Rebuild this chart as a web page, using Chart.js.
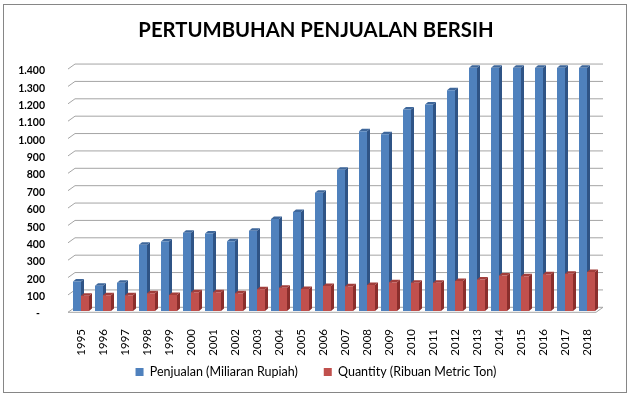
<!DOCTYPE html>
<html>
<head>
<meta charset="utf-8">
<script src="https://cdn.jsdelivr.net/npm/chart.js@4"></script>
<style>
  html, body { margin: 0; padding: 0; background: #ffffff; }
  #wrap { width: 632px; height: 397px; position: relative; }
</style>
</head>
<body>
<div id="wrap"><canvas id="c" width="632" height="397"></canvas></div>
<script>
const titleText = "PERTUMBUHAN PENJUALAN BERSIH";
const years = ["1995","1996","1997","1998","1999","2000","2001","2002","2003","2004","2005","2006",
               "2007","2008","2009","2010","2011","2012","2013","2014","2015","2016","2017","2018"];
const penjualan = [170, 145, 163, 381, 400, 450, 446, 402, 462, 530, 570, 680,
                   813, 1035, 1017, 1160, 1188, 1271, 1400, 1400, 1400, 1400, 1400, 1400];
const quantity = [88, 90, 90, 102, 92, 108, 108, 102, 125, 134, 127, 144,
                  142, 150, 165, 162, 162, 173, 181, 204, 200, 212, 214, 225];
const seriesNames = ["Penjualan (Miliaran Rupiah)", "Quantity (Ribuan Metric Ton)"];
const yTicks = [0,100,200,300,400,500,600,700,800,900,1000,1100,1200,1300,1400];

const FONT = "Lato, 'Liberation Sans', sans-serif";

function fmt(v) {
  if (v === 0) return "-  ";
  return String(v).replace(/\B(?=(\d{3})+(?!\d))/g, ".");
}

const frontColors = ["#4F81BD", "#C0504D"];
const sideColors  = ["#2F5486", "#8A2E2C"];
const topColors   = ["#3E679B", "#A23E3B"];

const border = {
  id: "border",
  beforeDraw(chart) {
    const ctx = chart.ctx;
    ctx.save();
    ctx.fillStyle = "#ffffff";
    ctx.fillRect(0, 0, chart.width, chart.height);
    ctx.strokeStyle = "#868686";
    ctx.lineWidth = 1;
    ctx.strokeRect(3.5, 4.5, 623, 388);
    ctx.restore();
  }
};

const threeD = {
  id: "threeD",
  beforeDatasetsDraw(chart) {
    const ctx = chart.ctx;
    const y = chart.scales.y;
    const area = chart.chartArea;
    const gx0 = area.left - 2, gdx = 7, backUp = 3.7, frontDown = 1.3;
    const gRight = area.right + 5;
    ctx.save();
    ctx.strokeStyle = "#A5A5A5";
    ctx.lineWidth = 1;
    yTicks.forEach(v => {
      const py = y.getPixelForValue(v);
      ctx.beginPath();
      ctx.moveTo(gx0, py + frontDown);
      ctx.lineTo(gx0 + gdx, py - backUp);
      ctx.lineTo(gRight, py - backUp);
      ctx.stroke();
    });
    const p0 = y.getPixelForValue(0);
    ctx.beginPath();
    ctx.moveTo(gx0, p0 + frontDown);
    ctx.lineTo(gRight - gdx, p0 + frontDown);
    ctx.lineTo(gRight, p0 - backUp);
    ctx.stroke();
    const dx = 3, dy = 2.5;
    chart.data.datasets.forEach((ds, di) => {
      const meta = chart.getDatasetMeta(di);
      meta.data.forEach(bar => {
        const p = bar.getProps(["x", "y", "base", "width"], true);
        const l = p.x - p.width / 2, r = p.x + p.width / 2;
        const t = p.y, b = p.base;
        ctx.fillStyle = sideColors[di];
        ctx.beginPath();
        ctx.moveTo(r, t);
        ctx.lineTo(r + dx, t - dy);
        ctx.lineTo(r + dx, b - dy);
        ctx.lineTo(r, b);
        ctx.closePath();
        ctx.fill();
        ctx.fillStyle = topColors[di];
        ctx.beginPath();
        ctx.moveTo(l, t);
        ctx.lineTo(l + dx, t - dy);
        ctx.lineTo(r + dx, t - dy);
        ctx.lineTo(r, t);
        ctx.closePath();
        ctx.fill();
      });
    });
    ctx.restore();
  }
};

new Chart(document.getElementById("c"), {
  type: "bar",
  data: {
    labels: years,
    datasets: [
      { label: seriesNames[0], data: penjualan, backgroundColor: frontColors[0], borderWidth: 0 },
      { label: seriesNames[1], data: quantity, backgroundColor: frontColors[1], borderWidth: 0 }
    ]
  },
  options: {
    responsive: false,
    animation: false,
    devicePixelRatio: 1,
    layout: { padding: { left: 0, right: 0, top: 0, bottom: 8.75 } },
    datasets: { bar: { barPercentage: 1, categoryPercentage: 0.727 } },
    plugins: {
      title: {
        display: true,
        text: titleText,
        color: "#000000",
        font: { family: FONT, size: 20.3, weight: "bold" },
        padding: { top: 18.7, bottom: 24.7 }
      },
      legend: {
        display: true,
        position: "bottom",
        labels: {
          color: "#000000",
          font: { family: FONT, size: 12.5 },
          boxWidth: 8,
          boxHeight: 8,
          padding: 26
        }
      },
      tooltip: { enabled: false }
    },
    scales: {
      x: {
        grid: { display: false },
        border: { display: false },
        ticks: {
          color: "#000000",
          font: { family: FONT, size: 11.5 },
          minRotation: 90,
          maxRotation: 90,
          padding: 10,
          autoSkip: false
        },
        afterFit(s) {
          s.height = 28.75;
          s._computeLabelArea = function () { return undefined; };
        }
      },
      y: {
        min: 0,
        max: 1400,
        grid: { display: false },
        border: { display: false },
        afterBuildTicks(s) { s.ticks = yTicks.map(v => ({ value: v })); },
        ticks: {
          color: "#000000",
          font: { family: FONT, size: 10.5, weight: "bold" },
          padding: 17,
          labelOffset: 3,
          callback: v => fmt(v)
        },
        afterFit(s) { s.width = 70; }
      },
      y2: {
        position: "right",
        display: true,
        grid: { display: false },
        border: { display: false },
        ticks: { display: false },
        afterFit(s) { s.width = 34; }
      }
    }
  },
  plugins: [border, threeD]
});
</script>
</body>
</html>
